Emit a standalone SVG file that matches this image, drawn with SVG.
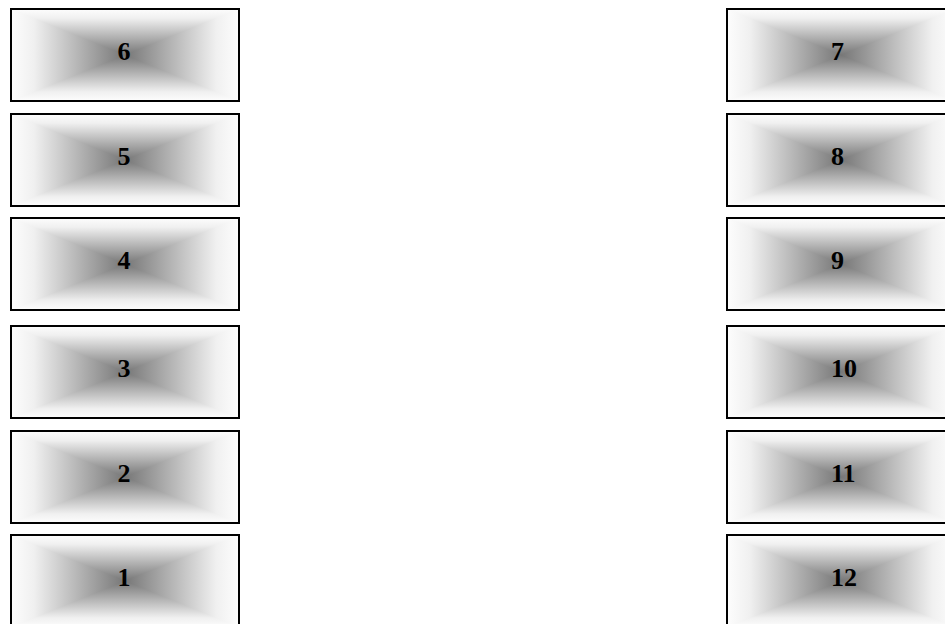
<svg xmlns="http://www.w3.org/2000/svg" xmlns:xlink="http://www.w3.org/1999/xlink" width="945" height="624" viewBox="0 0 945 624">
<style>
.frame{fill:none;stroke:#000;stroke-width:2}
.lbl{font-family:"Liberation Serif","Times New Roman",serif;font-weight:bold;font-size:26px;fill:#000}
.c{text-anchor:middle}
</style>
<defs>
<linearGradient id="gT" gradientUnits="userSpaceOnUse" x1="0" y1="0" x2="0" y2="46"><stop offset="0" stop-color="#fdfdfd"/><stop offset="0.2" stop-color="#f0f0f0"/><stop offset="1" stop-color="#777777"/></linearGradient>
<linearGradient id="gB" gradientUnits="userSpaceOnUse" x1="0" y1="92" x2="0" y2="46"><stop offset="0" stop-color="#fdfdfd"/><stop offset="0.2" stop-color="#f0f0f0"/><stop offset="1" stop-color="#777777"/></linearGradient>
<linearGradient id="gH" gradientUnits="userSpaceOnUse" x1="0" y1="0" x2="228" y2="0"><stop offset="0" stop-color="#fdfdfd"/><stop offset="0.1" stop-color="#f0f0f0"/><stop offset="0.5" stop-color="#777777"/><stop offset="0.9" stop-color="#f0f0f0"/><stop offset="1" stop-color="#fdfdfd"/></linearGradient>
<symbol id="box" viewBox="0 0 228 92" preserveAspectRatio="none" overflow="visible">
<rect x="0" y="0" width="228" height="92" fill="url(#gH)"/>
<polygon points="0,0 228,0 114,46" fill="url(#gT)"/>
<polygon points="0,92 228,92 114,46" fill="url(#gB)"/>
<rect x="0" y="0" width="228" height="92" class="frame"/>
</symbol>
</defs>
<g id="n6"><use xlink:href="#box" x="11" y="9" width="228" height="92"/><text class="lbl c" x="124" y="60">6</text></g>
<g id="n5"><use xlink:href="#box" x="11" y="114" width="228" height="92"/><text class="lbl c" x="124" y="165">5</text></g>
<g id="n4"><use xlink:href="#box" x="11" y="218" width="228" height="92"/><text class="lbl c" x="124" y="269">4</text></g>
<g id="n3"><use xlink:href="#box" x="11" y="326" width="228" height="92"/><text class="lbl c" x="124" y="377">3</text></g>
<g id="n2"><use xlink:href="#box" x="11" y="431" width="228" height="92"/><text class="lbl c" x="124" y="482">2</text></g>
<g id="n1"><use xlink:href="#box" x="11" y="535" width="228" height="92"/><text class="lbl c" x="124" y="586">1</text></g>
<g id="n7"><use xlink:href="#box" x="727" y="9" width="228" height="92"/><text class="lbl" x="831" y="60">7</text></g>
<g id="n8"><use xlink:href="#box" x="727" y="114" width="228" height="92"/><text class="lbl" x="831" y="165">8</text></g>
<g id="n9"><use xlink:href="#box" x="727" y="218" width="228" height="92"/><text class="lbl" x="831" y="269">9</text></g>
<g id="n10"><use xlink:href="#box" x="727" y="326" width="228" height="92"/><text class="lbl" x="831" y="377">10</text></g>
<g id="n11"><use xlink:href="#box" x="727" y="431" width="228" height="92"/><text class="lbl" x="831" y="482">11</text></g>
<g id="n12"><use xlink:href="#box" x="727" y="535" width="228" height="92"/><text class="lbl" x="831" y="586">12</text></g>
<g id="connectors"></g>
</svg>
